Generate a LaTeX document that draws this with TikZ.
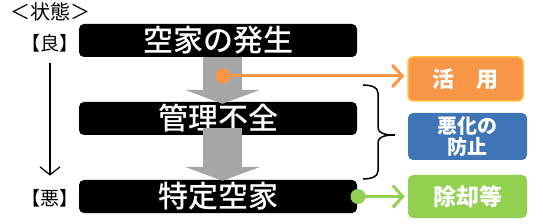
\documentclass[tikz,border=0pt]{standalone}
\usepackage{fontspec}
\usepackage{tikz}
\usetikzlibrary{arrows.meta,positioning}
\newfontfamily\jp{Noto Sans CJK JP}
\newfontfamily\jpm{Noto Sans CJK JP Medium}
\newfontfamily\jpp{Noto Sans CJK JP}[RawFeature=+palt]
\definecolor{actc}{RGB}{247,150,70}
\definecolor{actb}{RGB}{255,190,60}
\definecolor{prvc}{RGB}{62,117,182}
\definecolor{remc}{RGB}{146,208,80}
\definecolor{flowc}{RGB}{166,166,166}

\begin{document}
\begin{tikzpicture}[x=1pt,y=-1pt,>=Latex,
  stage/.style={fill=black,rounded corners=5pt,minimum width=278pt,minimum height=33pt,inner sep=0pt,
    text=white,font=\jpm\fontsize{30}{30}\selectfont},
  measure/.style={rounded corners=5pt,minimum width=119pt,inner sep=0pt,text=white,align=center},
  flow/.style={line width=39pt,flowc,-{Triangle[length=14pt,width=75pt]}},
  link/.style={line width=3pt,-{Straight Barb[length=10pt,width=22pt]},shorten >=3pt},
  dot/.style={circle,inner sep=0pt,minimum size=15pt}]
\useasboundingbox (0,0) rectangle (543,224);
% state scale on the left
\node[font=\jp\fontsize{20}{20}\selectfont] (state) at (50,12) {＜状態＞};
\node[font=\jpp\fontsize{19}{19}\selectfont] (good) at (50,43) {【良】};
\node[font=\jpp\fontsize{19}{19}\selectfont] (bad) at (50,198) {【悪】};
\draw[line width=1.2pt,-{Straight Barb[length=8pt,width=20pt]},shorten <=8pt,shorten >=10pt] (good) -- (bad);
% the three stages
\node[stage] (occur) at (218,40.5) {空家の発生};
\node[stage] (poor) at (218,118.5) {管理不全};
\node[stage] (spec) at (218,196.5) {特定空家};
% gray flow arrows
\draw[flow] ([xshift=4.5pt]occur.south) -- ([xshift=4.5pt,yshift=-2pt]poor.north);
\draw[flow] ([xshift=4.5pt,yshift=7pt]poor.south) -- ([xshift=4.5pt,yshift=-1pt]spec.north);
% measures on the right
\node[measure,fill=actc,draw=actb,line width=1.5pt,minimum width=115pt,minimum height=44pt,
  font=\jp\bfseries\fontsize{22}{22}\selectfont] (use) at (465.5,79) {活　用};
\node[measure,fill=prvc,minimum height=47pt,
  font=\jp\bfseries\fontsize{20}{21}\selectfont] (prev) at (467.5,136.5) {悪化の\\防止};
\node[measure,fill=remc,minimum height=43pt,
  font=\jp\bfseries\fontsize{23}{23}\selectfont] (rem) at (467.5,196.5) {除却等};
% connectors
\node[dot,fill=actc] (udot) at (223,76) {};
\node[dot,fill=remc] (rdot) at (358,196.5) {};
\draw[link,actc] (udot.center) -- (use.west |- udot.center);
\draw[link,remc] (rdot.center) -- (rem.west |- rdot.center);
% brace grouping the lower two stages
\draw[line width=1.5pt] (363,85) to[out=0,in=90] (378,93) -- (378,127)
  to[out=-90,in=180] (395,135) to[out=180,in=90] (378,143) -- (378,171)
  to[out=-90,in=0] (363,179);
\end{tikzpicture}
\end{document}
